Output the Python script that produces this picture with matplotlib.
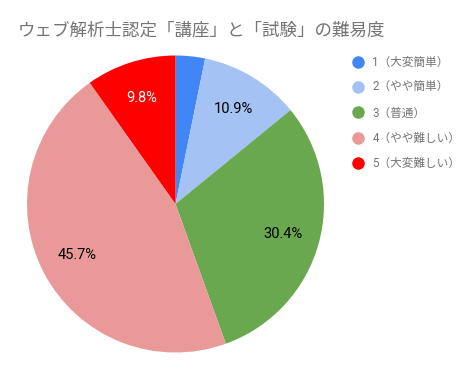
import matplotlib
matplotlib.use("Agg")
import matplotlib.pyplot as plt
from matplotlib.lines import Line2D

plt.rcParams['font.family'] = ['Roboto', 'Noto Sans CJK JP', 'DejaVu Sans']

title = "ウェブ解析士認定「講座」と「試験」の難易度"
categories = ["1（大変簡単）", "2（やや簡単）", "3（普通）", "4（やや難しい）", "5（大変難しい）"]
shares = [3.2, 10.9, 30.4, 45.7, 9.8]
colors = ["#4285F4", "#A4C2F4", "#6AA84F", "#EA9999", "#FF0000"]
label_colors = ["black", "black", "black", "black", "white"]

W, H = 467, 371
fig = plt.figure(figsize=(W / 100, H / 100), dpi=100)

# pie axes: square region in pixels
cx, cy, r = 175.5, 204.0, 148.5
ax = fig.add_axes([(cx - r) / W, (H - cy - r) / H, 2 * r / W, 2 * r / H])
wedges, texts, autotexts = ax.pie(
    shares, colors=colors, startangle=90, counterclock=False,
    autopct=lambda p: f"{p:.1f}%" if p >= 5 else "", pctdistance=0.75,
    wedgeprops=dict(linewidth=0), textprops=dict(fontsize=10.5),
)
for t, c in zip(autotexts, label_colors):
    t.set_color(c)
ax.set_xlim(-1, 1)
ax.set_ylim(-1, 1)
ax.set_aspect("equal")
ax.axis("off")

fig.text(18 / W, 1 - 31 / H, title, fontsize=12.6, color="#757575",
         va="center", ha="left", family=['Noto Sans CJK JP', 'DejaVu Sans'])

handles = [Line2D([], [], marker="o", linestyle="none", markersize=8,
                  markerfacecolor=c, markeredgecolor=c) for c in colors]
leg = fig.legend(handles, categories, loc="upper left",
                 bbox_to_anchor=(352 / W, 1 - 56 / H), frameon=False,
                 fontsize=8.4, labelspacing=1.05, handlelength=1.0,
                 handletextpad=0.75, borderpad=0, borderaxespad=0)
for t in leg.get_texts():
    t.set_color("#757575")

fig.savefig("out.png", dpi=100)
